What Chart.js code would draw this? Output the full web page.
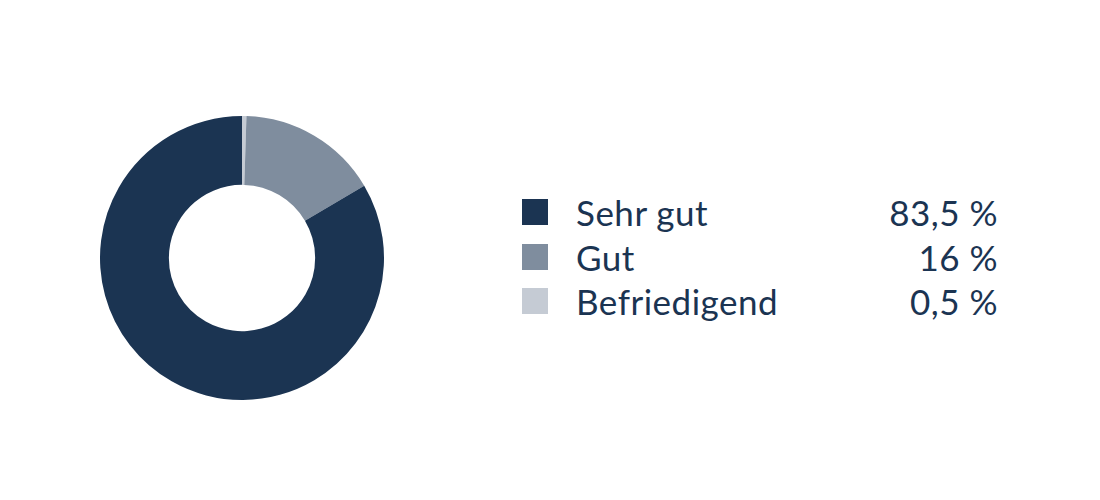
<!DOCTYPE html>
<html lang="de">
<head>
<meta charset="utf-8">
<title>Bewertung</title>
<script src="https://cdn.jsdelivr.net/npm/chart.js@4.4.0/dist/chart.umd.min.js"></script>
<style>
  html, body { margin: 0; padding: 0; background: #fff; }
  body { width: 1100px; height: 500px; position: relative; overflow: hidden;
         font-family: "Lato", "Open Sans", sans-serif; color: #1b3452; }
  #donutBox { position: absolute; left: 100px; top: 116px; width: 284px; height: 284px; }
  #legende { position: absolute; left: 522px; top: 190px; width: 476px; }
  .zeile { display: flex; align-items: center; height: 44.5px; font-size: 35px; font-weight: 400; letter-spacing: 0.5px; }
  .kasten { width: 26px; height: 26px; margin-right: 28px; flex: none; }
  .name { flex: 1; }
  .wert { text-align: right; }
</style>
</head>
<body>
<div id="donutBox"><canvas id="grafik" width="284" height="284"></canvas></div>
<div id="legende"></div>
<script>
// Daten
const kategorien = ['Sehr gut', 'Gut', 'Befriedigend'];
const werte = [83.5, 16, 0.5];
const farben = ['#1b3452', '#7f8d9e', '#c5cbd4'];

// Legende mit Werten
const legendeEl = document.getElementById('legende');
kategorien.forEach((k, i) => {
  const zeile = document.createElement('div');
  zeile.className = 'zeile';
  zeile.innerHTML = `<span class="kasten" style="background:${farben[i]}"></span>` +
    `<span class="name">${k}</span>` +
    `<span class="wert">${werte[i].toLocaleString('de-DE')} %</span>`;
  legendeEl.appendChild(zeile);
});

// Im Uhrzeigersinn ab 12 Uhr: Befriedigend, Gut, Sehr gut
const ctx = document.getElementById('grafik').getContext('2d');
new Chart(ctx, {
  type: 'doughnut',
  data: {
    labels: kategorien.slice().reverse(),
    datasets: [{
      data: werte.slice().reverse(),
      backgroundColor: farben.slice().reverse(),
      borderWidth: 0
    }]
  },
  options: {
    responsive: false,
    animation: false,
    cutout: '51.5%',
    layout: { padding: 0 },
    plugins: {
      legend: { display: false },
      tooltip: { enabled: false }
    }
  }
});
</script>
</body>
</html>
